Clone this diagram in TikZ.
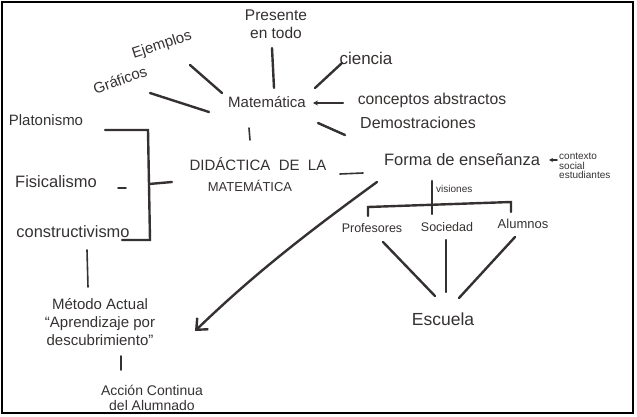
\documentclass[tikz,border=0pt]{standalone}
\usepackage{fontspec}
\setmainfont{Liberation Sans}
\usetikzlibrary{arrows.meta}
\definecolor{ink}{HTML}{353131}
\tikzset{
  txt/.style={font=\fontsize{15}{18}\selectfont, text=ink, inner sep=0pt, align=center},
  fs/.style={font=\fontsize{#1}{18}\selectfont},
  smalltxt/.style={font=\fontsize{10}{9.5}\selectfont, text=ink, inner sep=0pt, align=left},
  conn/.style={draw=ink, line width=2.4pt, line cap=round},
  thinconn/.style={draw=ink, line width=1.6pt, line cap=round},
}
\begin{document}
\begin{tikzpicture}[x=1pt,y=-1pt]
\useasboundingbox (0,0) rectangle (637,417);
\begin{scope}
\clip (3,3) rectangle (632,412);
% nodes
\node[txt, fs=15.5] (pres) at (276,24) {Presente\\en todo};
\node[txt, rotate=18] (ejem) at (162,45) {Ejemplos};
\node[txt, rotate=20] (graf) at (120,80) {Gráficos};
\node[txt] (plat) at (46,120) {Platonismo};
\node[txt] (mate) at (267,102) {Matemática};
\node[txt, fs=17] (cien) at (366,58) {ciencia};
\node[txt, fs=15.7] (conc) at (432,100) {conceptos abstractos};
\node[txt, fs=16] (demo) at (418,123) {Demostraciones};
\node[txt] (dida) at (258,164) {DIDÁCTICA\ \ DE\ \ LA};
\node[txt, fs=13] (dida2) at (250,186) {MATEMÁTICA};
\node[txt, fs=16.5] (fisi) at (56,182) {Fisicalismo};
\node[txt, fs=16.4] (cons) at (73,232) {constructivismo};
\node[txt, fs=16.5] (forma) at (462,160) {Forma de enseñanza};
\node[smalltxt, anchor=west] (ctx) at (559,166) {contexto\\social\\estudiantes};
\node[smalltxt, anchor=west] (vis) at (436,189) {visiones};
\node[txt, fs=12.5] (prof) at (372,228) {Profesores};
\node[txt, fs=12.5] (soc) at (447,227) {Sociedad};
\node[txt, fs=13] (alum) at (523,224) {Alumnos};
\node[txt, fs=17.5] (esc) at (443,319) {Escuela};
\node[txt] (meto) at (100,322) {Método Actual\\“Aprendizaje por\\descubrimiento”};
\node[txt, font=\fontsize{14}{15}\selectfont] (acc) at (152,398) {Acción Continua\\del Alumnado};
% coordinates for hand-drawn connector ends
\coordinate (pA) at (272,48); \coordinate (pB) at (274,88);
\coordinate (eA) at (190,65); \coordinate (eB) at (222,93);
\coordinate (gA) at (150,93); \coordinate (gB) at (209,112);
\coordinate (cA) at (342,63); \coordinate (cB) at (315,88);
\coordinate (kA) at (343,103); \coordinate (kB) at (313,103);
\coordinate (dA) at (345,135); \coordinate (dB) at (318,123);
\coordinate (mA) at (249,128); \coordinate (mB) at (250,140);
\coordinate (fA) at (340,174); \coordinate (fB) at (363,173);
\coordinate (aA) at (377,182); \coordinate (aB) at (195,331);
\coordinate (xA) at (557,160); \coordinate (xB) at (549,160);
\coordinate (b1) at (105,130); \coordinate (b2) at (148,130);
\coordinate (b3) at (150,240); \coordinate (b4) at (122,240);
\coordinate (bm) at (149,184); \coordinate (bd) at (172,182);
\coordinate (fs1) at (118,188); \coordinate (fs2) at (126,188);
\coordinate (tA) at (87,250); \coordinate (tB) at (88,287);
\coordinate (uA) at (121,356); \coordinate (uB) at (121,370);
\coordinate (v1) at (432,181); \coordinate (v2) at (432,214);
\coordinate (h1) at (368,216); \coordinate (h2) at (368,207);
\coordinate (h3) at (511,202); \coordinate (h4) at (511,212);
\coordinate (s1) at (383,242); \coordinate (s2) at (435,296);
\coordinate (s3) at (446,240); \coordinate (s4) at (446,292);
\coordinate (s5) at (515,237); \coordinate (s6) at (459,298);
% connectors
\draw[conn] (pA) -- (pB);
\draw[conn] (eA) -- (eB);
\draw[conn] (gA) -- (gB);
\draw[conn] (cA) -- (cB);
\draw[conn, -{Stealth[length=5pt,width=5pt]}] (kA) -- (kB);
\draw[conn] (dA) -- (dB);
\draw[thinconn] (mA) -- (mB);
\draw[thinconn] (fA) -- (fB);
\draw[conn, -{Straight Barb[length=9pt,width=16pt]}] (aA) .. controls (300,238) and (250,278) .. (aB);
\draw[thinconn, -{Stealth[length=4pt,width=4pt]}] (xA) -- (xB);
\draw[conn] (b1) -- (b2) -- (b3) -- (b4);
\draw[conn] (bm) -- (bd);
\draw[thinconn] (fs1) -- (fs2);
\draw[thinconn] (tA) -- (tB);
\draw[thinconn] (uA) -- (uB);
\draw[conn] (v1) -- (v2);
\draw[conn] (h1) -- (h2) -- (h3) -- (h4);
\draw[conn] (s1) -- (s2);
\draw[conn] (s3) -- (s4);
\draw[conn] (s5) -- (s6);
\end{scope}
\draw[black, line width=1.6pt] (2,2) rectangle (633,413);
\end{tikzpicture}
\end{document}
